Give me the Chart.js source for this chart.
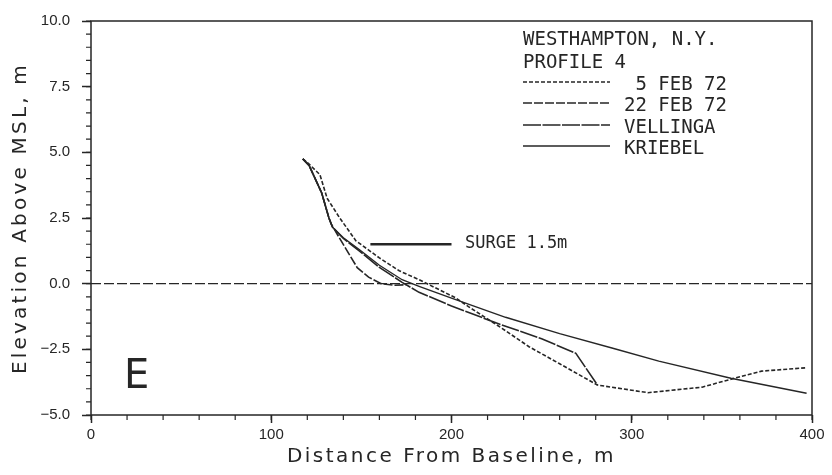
<!DOCTYPE html>
<html>
<head>
<meta charset="utf-8">
<script src="https://cdn.jsdelivr.net/npm/chart.js@4.4.1/dist/chart.umd.min.js"></script>
<style>
  html, body { margin: 0; padding: 0; background: #fff; }
  #wrap { width: 832px; height: 475px; }
</style>
</head>
<body>
<div id="wrap"><canvas id="profile-chart"></canvas></div>
<script>
// profile data (distance m, elevation m)
const feb5X = [117.5, 121, 127, 131, 138, 147, 160, 171, 182, 202, 210, 228, 243, 260, 281, 309, 339, 357, 372, 397];
const feb5Y = [4.75, 4.55, 4.15, 3.25, 2.5, 1.63, 0.98, 0.49, 0.15, -0.53, -0.9, -1.7, -2.4, -3.05, -3.86, -4.15, -3.94, -3.6, -3.33, -3.2];

const feb22X = [117.5, 121, 128, 132, 133.3, 137.8, 147.7, 154, 161, 168, 175];
const feb22Y = [4.75, 4.5, 3.45, 2.5, 2.27, 1.74, 0.61, 0.25, 0.0, -0.06, -0.04];

const vellingaX = [117.5, 121, 128, 132, 134, 140, 148.8, 160, 172.6, 182, 200, 225, 250, 269, 281];
const vellingaY = [4.75, 4.5, 3.45, 2.5, 2.15, 1.72, 1.25, 0.62, 0.05, -0.33, -0.85, -1.5, -2.1, -2.65, -3.86];

const kriebelX = [117.5, 121, 128, 132, 134, 140, 148.8, 160, 172.6, 182, 200, 230, 260, 290, 315, 355, 397];
const kriebelY = [4.75, 4.5, 3.45, 2.5, 2.15, 1.75, 1.3, 0.7, 0.15, -0.1, -0.55, -1.28, -1.9, -2.47, -2.95, -3.6, -4.17];

const mslX = [0, 400];
const mslY = [0, 0];

const surgeX = [155, 200];
const surgeY = [1.5, 1.5];

const xTickValues = [0, 100, 200, 300, 400];
const yTickValues = [-5, -2.5, 0, 2.5, 5, 7.5, 10];

const legendLabels = [' 5 FEB 72', '22 FEB 72', 'VELLINGA', 'KRIEBEL'];

const ink = '#262626';

function pts(xs, ys) {
    return xs.map((x, i) => ({x: x, y: ys[i]}));
}

const dashes = [[4, 2], [9, 2], [18, 1.5], []];

// frame, minor ticks, legend block and text notes
const decor = {
    id: 'decor',
    beforeDraw(chart) {
        const ctx = chart.ctx;
        ctx.save();
        ctx.fillStyle = '#fff';
        ctx.fillRect(0, 0, chart.width, chart.height);
        ctx.restore();
    },
    afterDraw(chart) {
        const ctx = chart.ctx;
        const a = chart.chartArea;
        const xs = chart.scales.x;
        const ys = chart.scales.y;
        ctx.save();
        ctx.strokeStyle = ink;
        ctx.fillStyle = ink;
        ctx.lineWidth = 1.5;
        ctx.strokeRect(a.left, a.top, a.right - a.left, a.bottom - a.top);

        // minor ticks
        ctx.lineWidth = 1.2;
        ctx.beginPath();
        for (let v = 0; v <= 400; v += 20) {
            const px = xs.getPixelForValue(v);
            ctx.moveTo(px, a.bottom);
            ctx.lineTo(px, a.bottom + 5);
        }
        for (let v = -5; v <= 10; v += 0.5) {
            const py = ys.getPixelForValue(v);
            ctx.moveTo(a.left - 5, py);
            ctx.lineTo(a.left, py);
        }
        ctx.stroke();

        // legend
        ctx.font = '19px "DejaVu Sans Mono"';
        ctx.textAlign = 'left';
        ctx.textBaseline = 'alphabetic';
        ctx.fillText('WESTHAMPTON, N.Y.', 523, 45);
        ctx.fillText('PROFILE 4', 523, 68);
        const rows = [82, 103, 125, 146];
        ctx.lineWidth = 1.4;
        legendLabels.forEach((lab, i) => {
            ctx.setLineDash(dashes[i]);
            ctx.beginPath();
            ctx.moveTo(523, rows[i]);
            ctx.lineTo(610, rows[i]);
            ctx.stroke();
            ctx.setLineDash([]);
            ctx.fillText(lab, 624, rows[i] + 8);
        });

        // surge label
        ctx.font = '17px "DejaVu Sans Mono"';
        ctx.fillText('SURGE 1.5m', 465, 248);

        // panel letter
        ctx.font = '40px "DejaVu Sans"';
        ctx.fillText('E', 124, 388);

        // axis titles
        ctx.font = '20px "DejaVu Sans"';
        ctx.letterSpacing = '2.5px';
        ctx.textAlign = 'center';
        ctx.fillText('Distance From Baseline, m', (a.left + a.right) / 2, 462);
        ctx.translate(26, (a.top + a.bottom) / 2);
        ctx.rotate(-Math.PI / 2);
        ctx.letterSpacing = '3.2px';
        ctx.fillText('Elevation Above MSL, m', 0, 0);
        ctx.restore();
    }
};

function lineSet(label, data, dash, width) {
    return {
        label: label,
        data: data,
        showLine: true,
        borderColor: ink,
        borderWidth: width,
        borderDash: dash,
        pointRadius: 0,
        fill: false,
        tension: 0
    };
}

const chartData = {
    datasets: [
        lineSet('5 FEB 72', pts(feb5X, feb5Y), dashes[0], 1.6),
        lineSet('22 FEB 72', pts(feb22X, feb22Y), dashes[1], 1.6),
        lineSet('VELLINGA', pts(vellingaX, vellingaY), dashes[2], 1.6),
        lineSet('KRIEBEL', pts(kriebelX, kriebelY), dashes[3], 1.4),
        lineSet('MSL', pts(mslX, mslY), [10, 3], 1.4),
        lineSet('SURGE', pts(surgeX, surgeY), [], 2.6)
    ]
};

const tickFont = {family: '"Liberation Sans"', size: 15};

new Chart(document.getElementById('profile-chart').getContext('2d'), {
    type: 'scatter',
    data: chartData,
    options: {
        responsive: true,
        maintainAspectRatio: false,
        animation: false,
        layout: {padding: {top: 17, right: 20, left: 0, bottom: 0}},
        plugins: {
            legend: {display: false},
            tooltip: {enabled: false}
        },
        scales: {
            x: {
                type: 'linear',
                min: 0,
                max: 400,
                afterFit: scale => { scale.height = 60; },
                afterBuildTicks: scale => { scale.ticks = xTickValues.map(v => ({value: v})); },
                border: {display: false},
                grid: {drawOnChartArea: false, drawTicks: true, tickLength: 8, tickColor: ink, tickWidth: 1.5},
                ticks: {color: ink, font: tickFont, padding: 3, maxRotation: 0}
            },
            y: {
                type: 'linear',
                min: -5,
                max: 10,
                afterFit: scale => { scale.width = 91; },
                afterBuildTicks: scale => { scale.ticks = yTickValues.map(v => ({value: v})); },
                border: {display: false},
                grid: {drawOnChartArea: false, drawTicks: true, tickLength: 9, tickColor: ink, tickWidth: 1.5},
                ticks: {
                    color: ink,
                    font: tickFont,
                    padding: 12,
                    callback: v => v.toFixed(1).replace('-', '\u2212')
                }
            }
        }
    },
    plugins: [decor]
});
</script>
</body>
</html>
